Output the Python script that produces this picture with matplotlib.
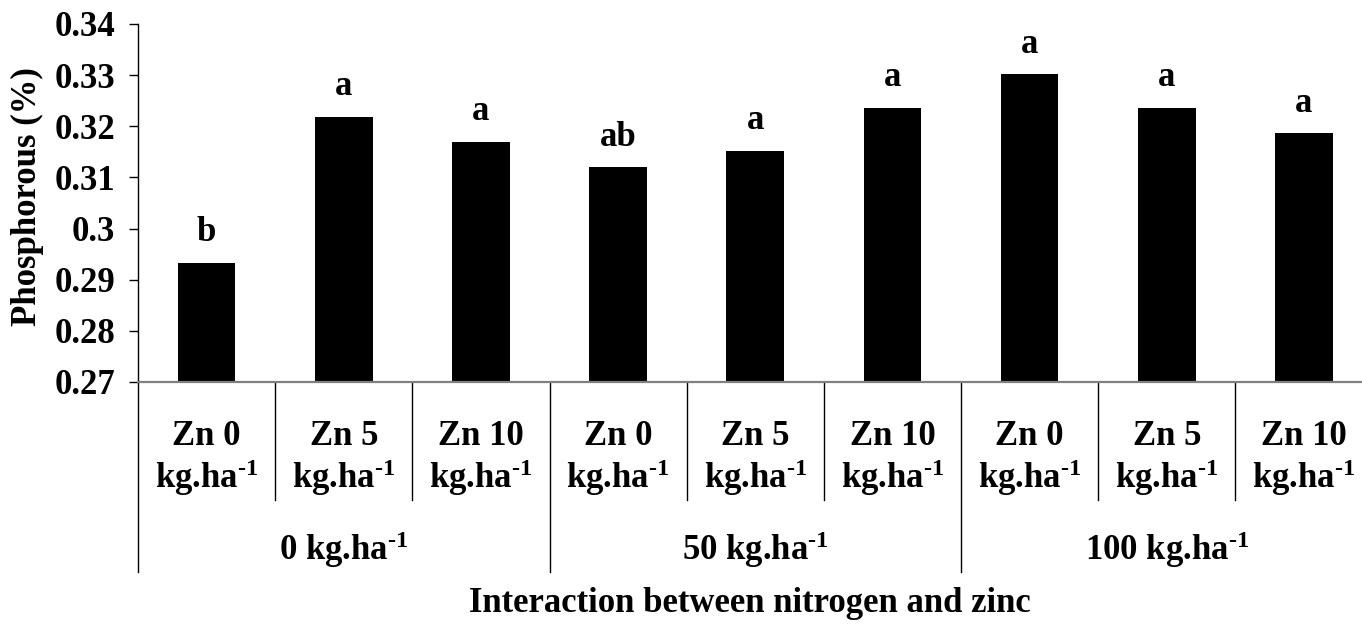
import matplotlib
matplotlib.use("Agg")
import matplotlib.pyplot as plt

plt.rcParams['font.family'] = ['Liberation Serif', 'DejaVu Serif']
plt.rcParams['font.weight'] = 'bold'
plt.rcParams['mathtext.fontset'] = 'custom'
plt.rcParams['mathtext.rm'] = 'Liberation Serif:bold'
plt.rcParams['mathtext.it'] = 'Liberation Serif:bold'
plt.rcParams['mathtext.bf'] = 'Liberation Serif:bold'

# Data
zinc_labels = ["Zn 0", "Zn 5", "Zn 10", "Zn 0", "Zn 5", "Zn 10", "Zn 0", "Zn 5", "Zn 10"]
nitrogen_groups = ["0 kg.ha$^{\\text{-}1}$", "50 kg.ha$^{\\text{-}1}$", "100 kg.ha$^{\\text{-}1}$"]
unit_label = "kg.ha$^{\\text{-}1}$"
phosphorus = [0.2933, 0.3219, 0.3170, 0.3120, 0.3152, 0.3236, 0.3302, 0.3236, 0.3186]
letters = ["b", "a", "a", "ab", "a", "a", "a", "a", "a"]
yticks = [0.27, 0.28, 0.29, 0.30, 0.31, 0.32, 0.33, 0.34]
ytick_labels = ["0.27", "0.28", "0.29", "0.3", "0.31", "0.32", "0.33", "0.34"]

FS = 25
W, H = 1362, 627
fig = plt.figure(figsize=(W / 100, H / 100), dpi=100)
left_px, right_px, top_px, bottom_px = 138, 1362, 24, 382
ax = fig.add_axes([left_px / W, 1 - bottom_px / H,
                   (right_px - left_px) / W, (bottom_px - top_px) / H])

x = list(range(len(phosphorus)))
ax.bar(x, phosphorus, width=0.42, color='black', bottom=0, zorder=2)
ax.set_ylim(0.27, 0.34)
ax.set_xlim(-0.5, 8.423)

for xi, v, l in zip(x, phosphorus, letters):
    ax.annotate(l, (xi, v), xytext=(0, 15.5), textcoords='offset points',
                ha='center', va='baseline', fontsize=FS, fontweight='bold')

ax.set_yticks(yticks)
ax.set_yticklabels(ytick_labels, fontsize=FS, fontweight='bold')
ax.tick_params(axis='y', direction='out', length=6.5, width=1, pad=10, colors='black')
ax.set_xticks([])
ax.spines['top'].set_visible(False)
ax.spines['right'].set_visible(False)
ax.spines['left'].set_color('black')
ax.spines['left'].set_linewidth(1)
ax.spines['bottom'].set_color('#808080')
ax.spines['bottom'].set_linewidth(1.6)

tr = ax.get_xaxis_transform()
axh = bottom_px - top_px
def yfrac(py):
    return (bottom_px - py) / axh

# category separators
for i in range(len(x) - 1):
    bx = i + 0.5
    if (i + 1) % 3 == 0:
        ax.plot([bx, bx], [0, yfrac(572)], transform=tr, color='black', lw=1, clip_on=False)
    else:
        ax.plot([bx, bx], [0, yfrac(500)], transform=tr, color='black', lw=1, clip_on=False)
ax.plot([-0.5, -0.5], [0, yfrac(572)], transform=tr, color='black', lw=1, clip_on=False)

for xi, zl in zip(x, zinc_labels):
    ax.text(xi, yfrac(445), zl, transform=tr, ha='center', va='baseline',
            fontsize=FS, fontweight='bold')
    ax.text(xi, yfrac(488), unit_label, transform=tr, ha='center', va='baseline',
            fontsize=FS, fontweight='bold')

for g, gl in enumerate(nitrogen_groups):
    ax.text(g * 3 + 1, yfrac(560), gl, transform=tr, ha='center', va='baseline',
            fontsize=FS, fontweight='bold')

fig.text(750 / W, 1 - 603 / H, "Interaction between nitrogen and zinc",
         ha='center', va='center', fontsize=25, fontweight='bold')
fig.text(27 / W, 1 - 197 / H, "Phosphorous (%)", rotation=90,
         ha='center', va='center', fontsize=FS, fontweight='bold')

fig.savefig("out.png", dpi=100)
